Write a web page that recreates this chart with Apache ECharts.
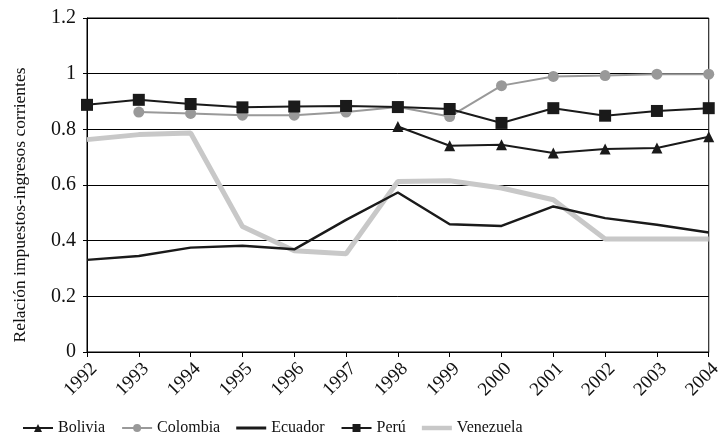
<!DOCTYPE html>
<html><head><meta charset="utf-8">
<script src="https://cdn.jsdelivr.net/npm/echarts@6/dist/echarts.min.js"></script>
<style>html,body{margin:0;padding:0;background:#fff}#c{width:725px;height:441px}</style>
</head><body><div id="c"></div>
<script>
const years = ['1992','1993','1994','1995','1996','1997','1998','1999','2000','2001','2002','2003','2004'];
const bolivia   = [null,null,null,null,null,null,0.81,0.741,0.745,0.715,0.729,0.733,0.773];
const colombia  = [null,0.862,0.857,0.851,0.851,0.862,0.88,0.846,0.957,0.99,0.993,0.998,0.998];
const ecuador   = [0.331,0.345,0.375,0.382,0.369,0.475,0.573,0.459,0.453,0.523,0.481,0.457,0.429];
const peru      = [0.888,0.906,0.891,0.879,0.882,0.884,0.88,0.873,0.823,0.876,0.849,0.866,0.876];
const venezuela = [0.763,0.781,0.787,0.451,0.364,0.353,0.613,0.615,0.589,0.547,0.406,0.406,0.406];
const yTicks = [0,0.2,0.4,0.6,0.8,1,1.2];

const font = 'Liberation Serif';
const chart = echarts.init(document.getElementById('c'));
chart.setOption({
  animation:false,
  textStyle:{fontFamily:font},
  grid:{left:87,right:13,top:18,bottom:89,show:true,borderColor:'#000',borderWidth:1},
  legend:{
    top:415,left:17,itemGap:16,itemWidth:30,itemHeight:10,
    textStyle:{fontFamily:font,fontSize:16,color:'#111'},
    data:[
      {name:'Bolivia'},
      {name:'Colombia'},
      {name:'Ecuador',icon:'path://M0,0H40V4H0Z'},
      {name:'Perú'},
      {name:'Venezuela',icon:'path://M0,0H40V6H0Z'}
    ]
  },
  xAxis:{
    type:'category',data:years,boundaryGap:false,
    axisLine:{lineStyle:{color:'#000',width:1}},
    axisTick:{show:true,length:5,lineStyle:{color:'#000'}},
    axisLabel:{rotate:45,fontFamily:font,fontSize:19,lineHeight:20,color:'#111',margin:7,interval:0,
      formatter:v=>'\n'+v}
  },
  yAxis:{
    type:'value',min:0,max:1.2,interval:0.2,
    name:'Relación impuestos-ingresos corrientes',nameLocation:'middle',nameGap:58,
    nameTextStyle:{fontFamily:font,fontSize:17.5,color:'#111',padding:[0,40,0,0]},
    axisLine:{show:true,lineStyle:{color:'#000'}},
    axisTick:{show:true,length:4,lineStyle:{color:'#000'}},
    splitLine:{show:true,lineStyle:{color:'#000',width:1}},
    axisLabel:{fontFamily:font,fontSize:20,color:'#111',margin:11,
      formatter:v=>{const t=yTicks.find(x=>Math.abs(x-v)<1e-6);return t===undefined?'':String(t);}}
  },
  series:[
    {name:'Venezuela',type:'line',data:venezuela,symbol:'none',lineStyle:{color:'#c8c8c8',width:5},itemStyle:{color:'#c8c8c8'},z:1},
    {name:'Ecuador',type:'line',data:ecuador,symbol:'none',lineStyle:{color:'#1a1a1a',width:2.5},itemStyle:{color:'#1a1a1a'},z:2},
    {name:'Colombia',type:'line',data:colombia,symbol:'circle',symbolSize:11,lineStyle:{color:'#999',width:2},itemStyle:{color:'#999'},z:3},
    {name:'Perú',type:'line',data:peru,symbol:'rect',symbolSize:12,lineStyle:{color:'#1a1a1a',width:2},itemStyle:{color:'#1a1a1a'},z:4},
    {name:'Bolivia',type:'line',data:bolivia,symbol:'triangle',symbolSize:11,lineStyle:{color:'#1a1a1a',width:2},itemStyle:{color:'#1a1a1a'},z:5}
  ]
});
</script></body></html>
